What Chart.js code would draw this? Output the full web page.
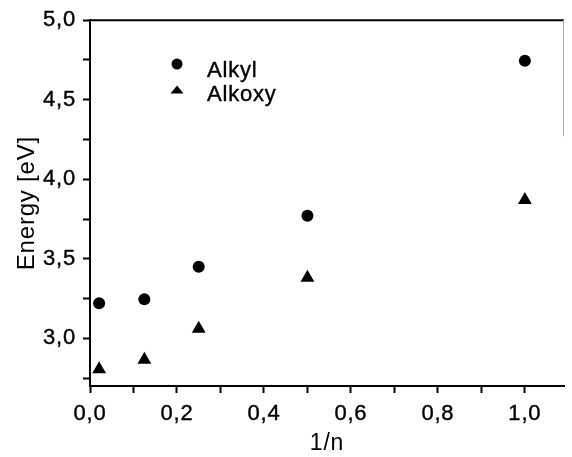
<!DOCTYPE html>
<html>
<head>
<meta charset="utf-8">
<script src="https://cdn.jsdelivr.net/npm/chart.js@4/dist/chart.umd.min.js"></script>
<style>
  html, body { margin: 0; padding: 0; background: #fff; }
  canvas { display: block; }
</style>
</head>
<body>
<canvas id="c" width="572" height="457"></canvas>
<script>
// ---- data ----
const inverseN = [0.021, 0.125, 0.25, 0.5, 1.0];
const alkylEnergy = [3.22, 3.245, 3.45, 3.77, 4.745];
const alkoxyEnergy = [2.805, 2.865, 3.06, 3.38, 3.87];
const seriesNames = ['Alkyl', 'Alkoxy'];
const xTickLabels = ['0,0', '0,2', '0,4', '0,6', '0,8', '1,0'];
const yTickLabels = ['3,0', '3,5', '4,0', '4,5', '5,0'];

const FONT = "'Liberation Sans', Arial, sans-serif";
const SPACING = '0.8px';

function toPoints(xs, ys) { return xs.map((x, i) => ({ x: x, y: ys[i] })); }
function fmt(v) { return v.toFixed(1).replace('.', ','); }

function setSpacing(chart) {
  if ('letterSpacing' in chart.ctx) chart.ctx.letterSpacing = SPACING;
}

const framePlugin = {
  id: 'frame',
  beforeInit: setSpacing,
  beforeUpdate: setSpacing,
  beforeLayout: setSpacing,
  beforeDraw: setSpacing,
  afterDraw(chart) {
    const { ctx, chartArea: a, scales } = chart;
    ctx.save();
    // top frame line
    ctx.strokeStyle = '#000';
    ctx.lineWidth = 2;
    ctx.beginPath();
    ctx.moveTo(a.left - 1, a.top);
    ctx.lineTo(a.right, a.top);
    ctx.stroke();
    // faint right frame remnant
    ctx.strokeStyle = '#aaa';
    ctx.lineWidth = 1;
    ctx.beginPath();
    ctx.moveTo(a.right - 0.5, a.top);
    ctx.lineTo(a.right - 0.5, scales.y.getPixelForValue(4.27));
    ctx.stroke();

    // legend
    const lx = 177;
    ctx.fillStyle = '#000';
    ctx.beginPath();
    ctx.arc(lx, 64, 5.5, 0, Math.PI * 2);
    ctx.fill();
    ctx.beginPath();
    ctx.moveTo(lx - 6.5, 93.5);
    ctx.lineTo(lx + 6.5, 93.5);
    ctx.lineTo(lx, 85.5);
    ctx.closePath();
    ctx.fill();
    ctx.font = "22px " + FONT;
    ctx.textBaseline = 'alphabetic';
    ctx.textAlign = 'left';
    ctx.strokeStyle = '#000';
    ctx.lineWidth = 0.4;
    ctx.fillText(seriesNames[0], 207, 77);
    ctx.strokeText(seriesNames[0], 207, 77);
    ctx.fillText(seriesNames[1], 207, 101);
    ctx.strokeText(seriesNames[1], 207, 101);
    ctx.restore();
  }
};

new Chart(document.getElementById('c'), {
  type: 'scatter',
  data: {
    datasets: [
      {
        label: seriesNames[0],
        data: toPoints(inverseN, alkylEnergy),
        pointStyle: 'circle',
        pointRadius: 6,
        pointHoverRadius: 6,
        backgroundColor: '#000',
        borderColor: '#000',
        borderWidth: 0
      },
      {
        label: seriesNames[1],
        data: toPoints(inverseN, alkoxyEnergy),
        pointStyle: 'triangle',
        pointRadius: 8,
        pointHoverRadius: 8,
        backgroundColor: '#000',
        borderColor: '#000',
        borderWidth: 0
      }
    ]
  },
  options: {
    responsive: false,
    animation: false,
    events: [],
    layout: { padding: { top: 19, right: 1, left: 0, bottom: 0 } },
    plugins: {
      legend: { display: false },
      tooltip: { enabled: false }
    },
    scales: {
      x: {
        type: 'linear',
        min: 0,
        max: 1.09,
        afterFit(s) { s.height = 71; },
        border: { display: true, color: '#000', width: 2 },
        grid: {
          drawOnChartArea: false,
          drawTicks: true,
          tickLength: 7,
          tickColor: '#000',
          tickWidth: 2
        },
        ticks: {
          stepSize: 0.1,
          includeBounds: false,
          autoSkip: false,
          maxRotation: 0,
          padding: 8,
          color: '#000',
          textStrokeColor: '#000',
          textStrokeWidth: 0.4,
          font: { family: FONT, size: 22 },
          callback(v) {
            const k = Math.round(v * 10);
            if (k % 2 !== 0) return '';
            const lbl = fmt(v);
            return xTickLabels.includes(lbl) ? lbl : '';
          }
        },
        title: {
          display: true,
          text: '1/n',
          color: '#000',
          font: { family: FONT, size: 23 },
          padding: { top: 0, bottom: 0 }
        }
      },
      y: {
        type: 'linear',
        min: 2.7,
        max: 5.0,
        afterFit(s) { s.width = 90; },
        border: { display: true, color: '#000', width: 2 },
        grid: {
          drawOnChartArea: false,
          drawTicks: true,
          tickLength: 7,
          tickColor: '#000',
          tickWidth: 2
        },
        ticks: {
          stepSize: 0.25,
          includeBounds: false,
          autoSkip: false,
          padding: 7,
          color: '#000',
          textStrokeColor: '#000',
          textStrokeWidth: 0.4,
          font: { family: FONT, size: 22 },
          callback(v) {
            const k = Math.round(v * 4);
            if (k % 2 !== 0) return '';
            const lbl = fmt(v);
            return yTickLabels.includes(lbl) ? lbl : '';
          }
        },
        title: {
          display: true,
          text: 'Energy [eV]',
          color: '#000',
          font: { family: FONT, size: 24 },
          padding: { top: 13, bottom: 0 }
        }
      }
    }
  },
  plugins: [framePlugin]
});
</script>
</body>
</html>
